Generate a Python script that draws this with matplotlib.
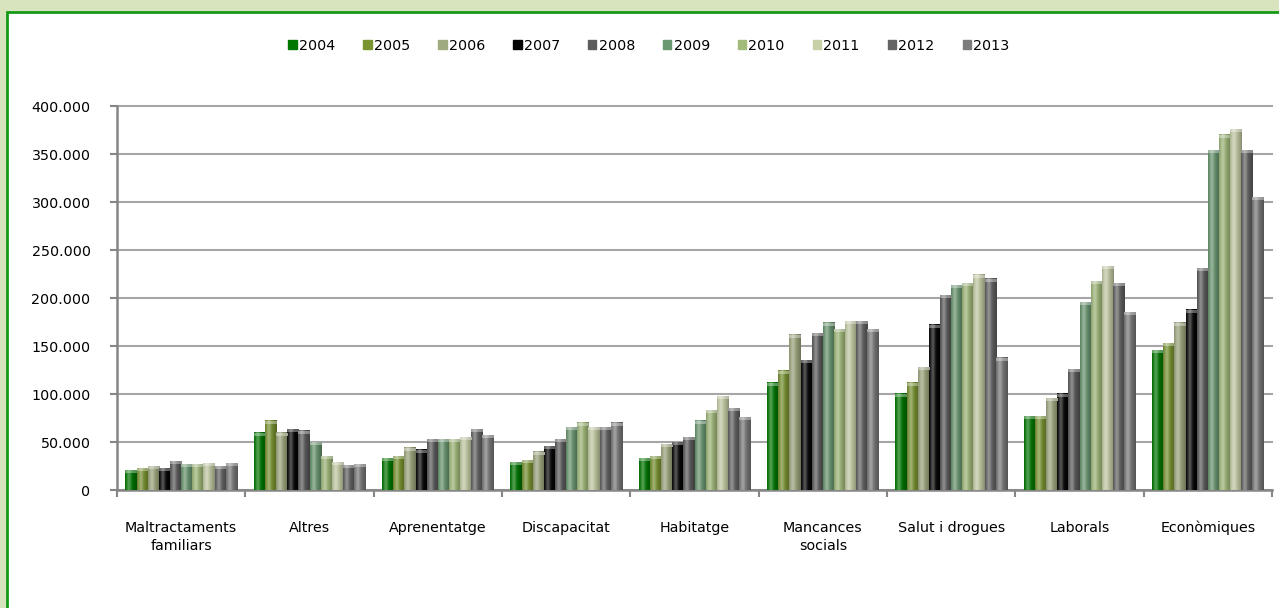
import numpy as np
import matplotlib
matplotlib.use('Agg')
import matplotlib.pyplot as plt
import matplotlib.colors as mcolors
import matplotlib.patches as patches
from matplotlib.ticker import FuncFormatter, FixedLocator

categories = ['Maltractaments\nfamiliars', 'Altres', 'Aprenentatge', 'Discapacitat', 'Habitatge',
              'Mancances\nsocials', 'Salut i drogues', 'Laborals', 'Econòmiques']
years = ['2004', '2005', '2006', '2007', '2008', '2009', '2010', '2011', '2012', '2013']

# values per year, one per category
v2004 = [20800, 59400, 33300, 29000, 33300, 111500, 100000, 77000, 145800]
v2005 = [22900, 71900, 35400, 31000, 35400, 124000, 111500, 77000, 153000]
v2006 = [25000, 59400, 43800, 39600, 47900, 161500, 128000, 95800, 174000]
v2007 = [22900, 63500, 41700, 45800, 50000, 135400, 171900, 100000, 187500]
v2008 = [30200, 61500, 53000, 53000, 55000, 163500, 203000, 126000, 231000]
v2009 = [27000, 50000, 53000, 65600, 71900, 174000, 213500, 195800, 354000]
v2010 = [27000, 35400, 53000, 69800, 83300, 167700, 215600, 217700, 369800]
v2011 = [28000, 29000, 55000, 65600, 97900, 176000, 224000, 233000, 376000]
v2012 = [25000, 26000, 63500, 65600, 85400, 176000, 219800, 215600, 354000]
v2013 = [28000, 27000, 57000, 69800, 76000, 167700, 137500, 185400, 305000]
series = [v2004, v2005, v2006, v2007, v2008, v2009, v2010, v2011, v2012, v2013]

colours = ['#007800', '#7a9430', '#a0aa80', '#050505', '#5c5c5c',
           '#6a9870', '#a2ba7a', '#c8d0a8', '#646464', '#7c7c7c']

plt.rcParams['font.family'] = 'DejaVu Sans'
plt.rcParams['font.size'] = 10.3

W, H = 1279, 608
fig = plt.figure(figsize=(W / 100, H / 100), dpi=100, facecolor='#d7e4bd')
# white panel with green border
fig.patches.append(patches.Rectangle((7 / W, -0.1), 1.2, (H - 12) / H + 0.1,
                                     transform=fig.transFigure, facecolor='white',
                                     edgecolor='#159a15', lw=2, zorder=-10))

ax = fig.add_axes([117 / W, 1 - 490 / H, (1272 - 117) / W, (490 - 106) / H])
ax.set_facecolor('none')


def shade(col, n=32):
    rgb = np.array(mcolors.to_rgb(col))
    t = np.linspace(0, 1, n)
    light = 0.32 * np.exp(-((t - 0.32) / 0.2) ** 2)
    dark = 0.32 * t ** 2 + 0.15 * (1 - t) ** 4
    c = rgb[None, :] * (1 - dark[:, None])
    c = c + (1 - c) * light[:, None]
    return np.clip(c, 0, 1)


n = len(years)
bw = 0.087
x = np.arange(len(categories))
for i, vals in enumerate(series):
    pos = x - bw * n / 2 + bw * (i + 0.5)
    bars = ax.bar(pos, vals, width=bw, color=colours[i], label=years[i], zorder=2)
    grad = shade(colours[i])
    for b in bars:
        x0, w, h = b.get_x(), b.get_width(), b.get_height()
        ax.imshow(grad[None, :, :], extent=(x0, x0 + w, 0, h), aspect='auto',
                  interpolation='bilinear', zorder=3)
        # small lighter cap at the top
        cap = grad + (1 - grad) * 0.35
        ax.imshow(cap[None, :, :], extent=(x0, x0 + w, h - 3000, h), aspect='auto',
                  interpolation='bilinear', zorder=4)

ax.set_xlim(-0.5, len(categories) - 0.5)
ax.set_ylim(0, 400000)
ax.set_yticks(np.arange(0, 400001, 50000))
ax.yaxis.set_major_formatter(FuncFormatter(lambda v, p: '0' if v == 0 else f'{int(v):,}'.replace(',', '.')))
ax.grid(axis='y', color='#a6a6a6', lw=1.5, zorder=1)
for gl in ax.get_ygridlines():
    gl.set_clip_on(False)
ax.set_axisbelow(True)

ax.set_xticks(x)
ax.set_xticklabels(categories, linespacing=1.4)
ax.xaxis.set_minor_locator(FixedLocator(np.arange(-0.5, len(categories), 1.0)))
ax.tick_params(axis='x', which='major', length=0, pad=22)
ax.tick_params(axis='x', which='minor', length=5, width=1.5, color='#868686', direction='out')
ax.tick_params(axis='y', length=5, width=1.5, color='#868686', pad=14)

for s in ['top', 'right']:
    ax.spines[s].set_visible(False)
for s in ['left', 'bottom']:
    ax.spines[s].set_color('#868686')
    ax.spines[s].set_linewidth(1.8)

handles = [patches.Patch(color=c) for c in colours]
fig.legend(handles, years, loc='center', bbox_to_anchor=(649 / W, 1 - 46 / H), ncol=n,
           frameon=False, handlelength=0.6, handleheight=0.6, handletextpad=0.15,
           columnspacing=1.95, borderaxespad=0)

plt.savefig('out.png', dpi=100, facecolor=fig.get_facecolor())
